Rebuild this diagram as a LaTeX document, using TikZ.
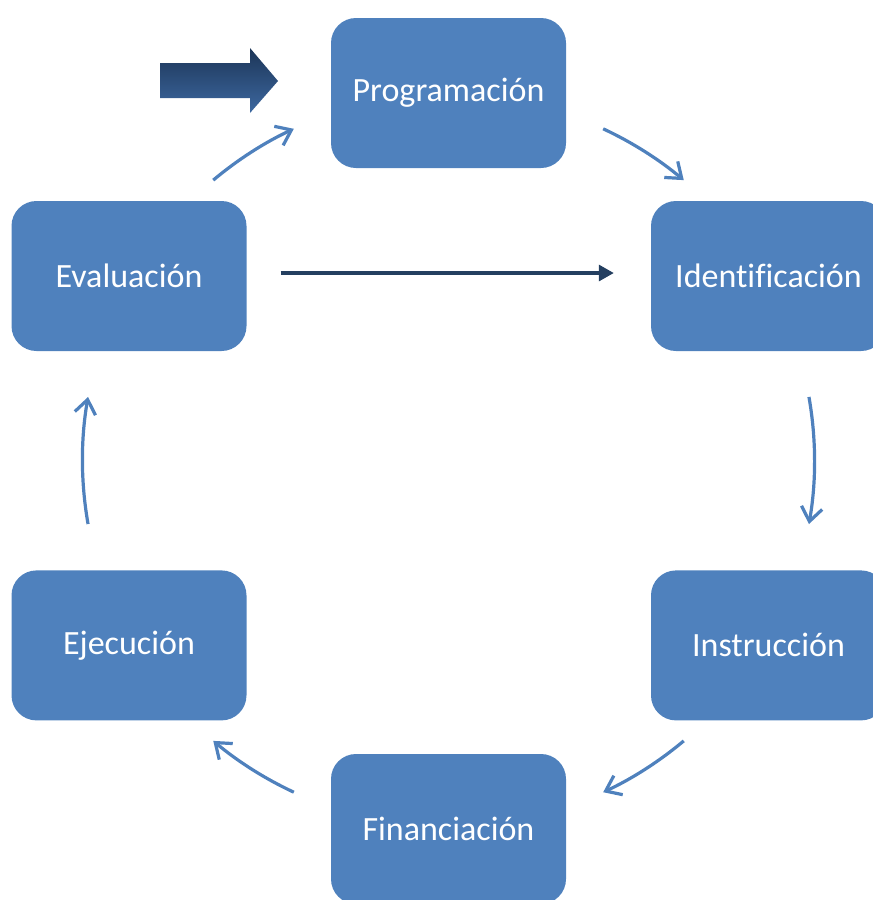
\documentclass[tikz,border=0pt]{standalone}
\usepackage{fontspec}
\setmainfont{Carlito}[Ligatures=NoCommon]
\usepackage{tikz}
\usetikzlibrary{positioning,arrows.meta}

\definecolor{boxblue}{HTML}{4F81BD}
\definecolor{linkdark}{HTML}{243F60}
\definecolor{bigtop}{HTML}{1C3557}
\definecolor{bigbot}{HTML}{3D68A0}

\begin{document}
\begin{tikzpicture}[
	x=1pt, y=-1pt,
	stagenode/.style={rectangle, rounded corners=25pt, fill=boxblue, text=white, minimum width=235pt, minimum height=150pt, inner sep=0pt, font=\fontsize{34}{40}\selectfont},
	cycarrow/.style={draw=boxblue, line width=3.2pt, -{Straight Barb[length=14pt,width=21pt]}},
	linkarrow/.style={draw=linkdark, line width=3.2pt, -{Triangle[length=15pt,width=16pt]}},
	]
	\useasboundingbox (0,0) rectangle (873,900);
	\clip (0,0) rectangle (873,900);
	%Nodes
	\coordinate (ctr) at (448.5,460.5);
	\node[stagenode]      (pr)       at (448.5,93)         {Programación};
	\node[stagenode]      (id)       at (768.5,276)        {Identificación};
	\node[stagenode]      (ev)       at (129,276)          {Evaluación};
	\node[stagenode]      (in)       [below=219pt of id]   {Instrucción};
	\node[stagenode]      (ej)       [below=219pt of ev]   {Ejecución};
	\node[stagenode]      (fi)       at (448.5,829)        {Financiación};
	
	%Start arrow
	\shade[top color=bigtop, bottom color=bigbot] (160,63) -- (250,63) -- (250,48) -- (278,81) -- (250,113) -- (250,98) -- (160,98) -- cycle;
	
	%Lines
	\draw[cycarrow] (ctr) ++(-130:366) arc[start angle=-130, end angle=-115, radius=366];
	\draw[cycarrow] (ctr) ++(-65:366) arc[start angle=-65, end angle=-50, radius=366];
	\draw[cycarrow] (ctr) ++(-10:366) arc[start angle=-10, end angle=10, radius=366];
	\draw[cycarrow] (ctr) ++(50:366) arc[start angle=50, end angle=65, radius=366];
	\draw[cycarrow] (ctr) ++(115:366) arc[start angle=115, end angle=130, radius=366];
	\draw[cycarrow] (ctr) ++(170:366) arc[start angle=170, end angle=190, radius=366];
	\draw[linkarrow, shorten <=34pt, shorten >=37pt] ([yshift=3pt]ev.east) -- ([yshift=3pt]id.west);
\end{tikzpicture}
\end{document}
